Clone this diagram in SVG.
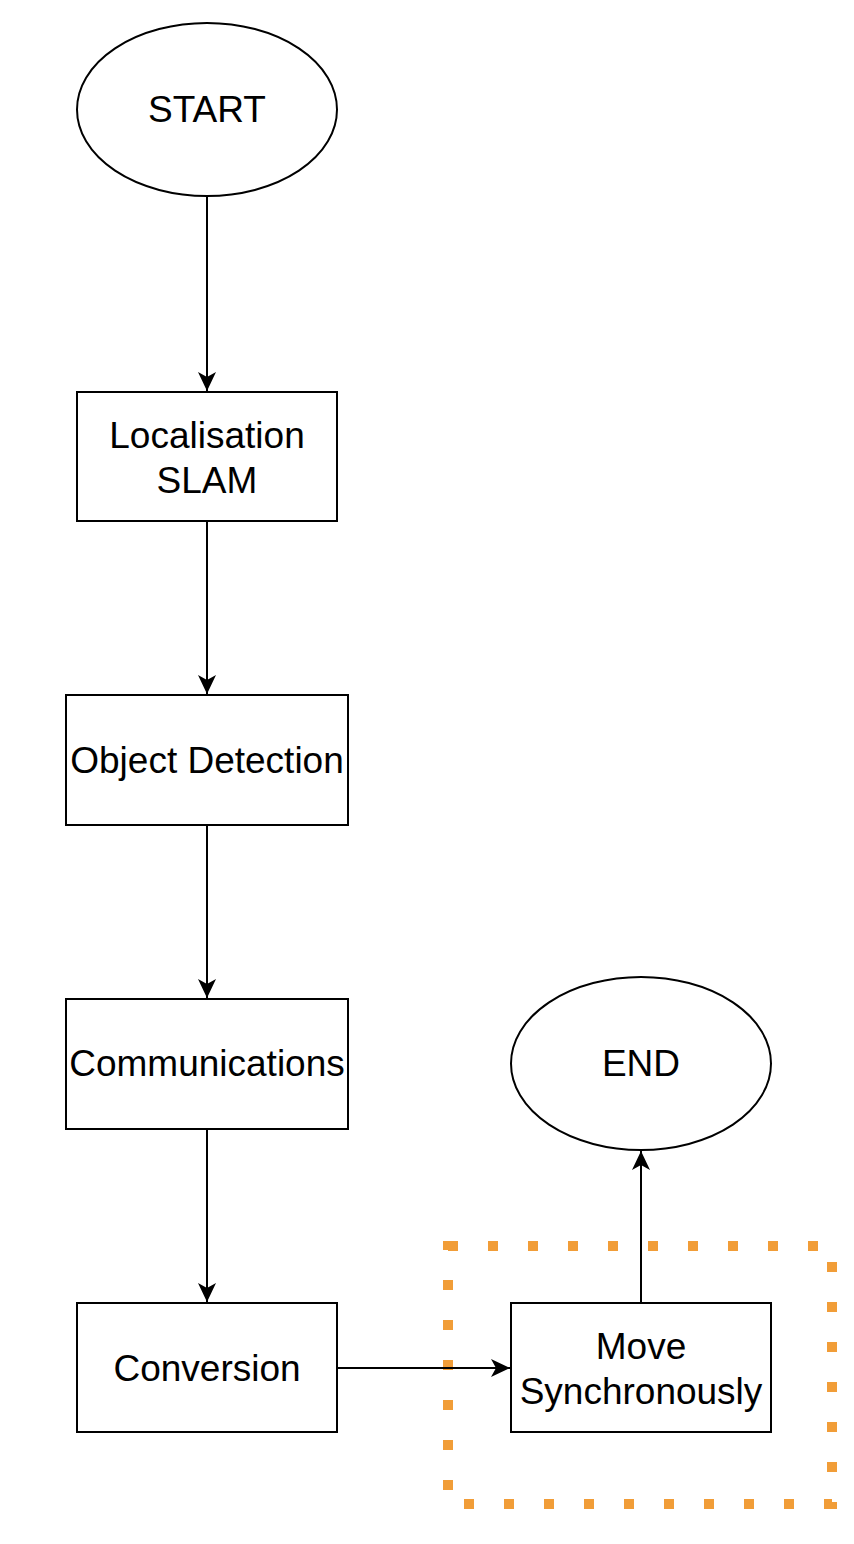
<svg xmlns="http://www.w3.org/2000/svg" width="854" height="1544" viewBox="0 0 854 1544">
<defs>
<style>
.shape{fill:#fff;stroke:#000;stroke-width:2}
.lbl{font-family:"Liberation Sans",Arial,sans-serif;font-size:37px;fill:#000;text-anchor:middle}
.conn{fill:none;stroke:#000;stroke-width:2}
.group{fill:none;stroke:#f19d38;stroke-width:10;stroke-dasharray:10 30}
</style>
<marker id="arr" markerWidth="20" markerHeight="20" refX="19" refY="10" orient="auto" markerUnits="userSpaceOnUse">
<path d="M0,1 L19,10 L0,19 L5,10 Z" fill="#000"/>
</marker>
</defs>
<rect width="854" height="1544" fill="#fff"/>
<g id="group-box"><rect class="group" x="448" y="1246" width="384" height="258"/></g>
<g id="connectors">
<line class="conn" x1="207" y1="196" x2="207" y2="391" marker-end="url(#arr)"/>
<line class="conn" x1="207" y1="521" x2="207" y2="694" marker-end="url(#arr)"/>
<line class="conn" x1="207" y1="825" x2="207" y2="998" marker-end="url(#arr)"/>
<line class="conn" x1="207" y1="1129" x2="207" y2="1302" marker-end="url(#arr)"/>
<line class="conn" x1="337" y1="1368" x2="510" y2="1368" marker-end="url(#arr)"/>
<line class="conn" x1="641" y1="1303" x2="641" y2="1151" marker-end="url(#arr)"/>
</g>
<g id="start"><ellipse class="shape" cx="207" cy="109.5" rx="130" ry="86.5"/><text class="lbl" x="207" y="122">START</text></g>
<g id="localisation"><rect class="shape" x="77" y="392" width="260" height="129"/><text class="lbl" x="207" y="448">Localisation</text><text class="lbl" x="207" y="493">SLAM</text></g>
<g id="object-detection"><rect class="shape" x="66" y="695" width="282" height="130"/><text class="lbl" x="207" y="773">Object Detection</text></g>
<g id="communications"><rect class="shape" x="66" y="999" width="282" height="130"/><text class="lbl" x="207" y="1076">Communications</text></g>
<g id="conversion"><rect class="shape" x="77" y="1303" width="260" height="129"/><text class="lbl" x="207" y="1381">Conversion</text></g>
<g id="move"><rect class="shape" x="511" y="1303" width="260" height="129"/><text class="lbl" x="641" y="1359">Move</text><text class="lbl" x="641" y="1404">Synchronously</text></g>
<g id="end"><ellipse class="shape" cx="641" cy="1063.5" rx="130" ry="86.5"/><text class="lbl" x="641" y="1076">END</text></g>
</svg>
